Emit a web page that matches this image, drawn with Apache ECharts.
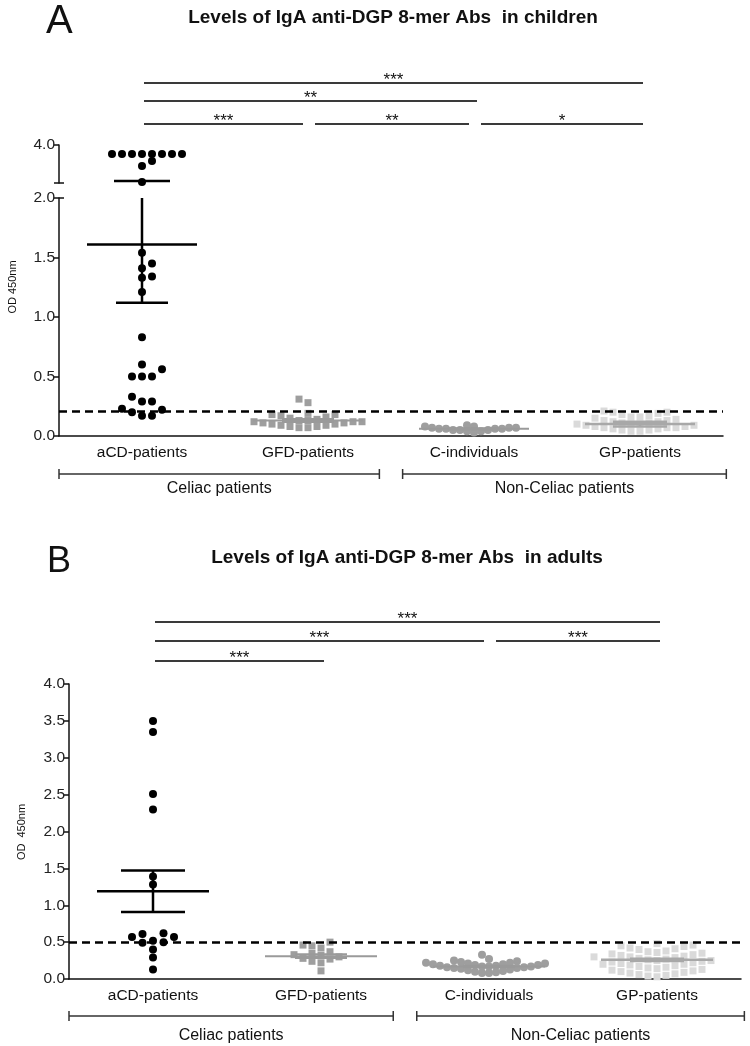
<!DOCTYPE html>
<html><head><meta charset="utf-8">
<script src="https://cdn.jsdelivr.net/npm/echarts@6/dist/echarts.min.js"></script>
<style>html,body{margin:0;padding:0;background:#fff}#c{width:750px;height:1046px}</style>
</head><body><div id="c"></div>
<script>
// ---------- data ----------
const categories = ['aCD-patients', 'GFD-patients', 'C-individuals', 'GP-patients'];
const groupLabels = ['Celiac patients', 'Non-Celiac patients'];
const panelLetters = ['A', 'B'];
const titleA = 'Levels of IgA anti-DGP 8-mer Abs  in children';
const titleB = 'Levels of IgA anti-DGP 8-mer Abs  in adults';
const yNameA = 'OD 450nm';
const yNameB = 'OD  450nm';

// Panel A (children)
const aCD_A = [3.53, 3.53, 3.53, 3.53, 3.53, 3.53, 3.53, 3.53, 3.16, 2.89, 2.05,
  1.54, 1.45, 1.41, 1.34, 1.33, 1.21, 0.83, 0.60, 0.56, 0.50, 0.50, 0.50,
  0.33, 0.29, 0.29, 0.23, 0.22, 0.20, 0.17, 0.17];
const GFD_A = [0.31, 0.28, 0.19, 0.18, 0.18, 0.17, 0.16, 0.15, 0.14, 0.13, 0.13, 0.12,
  0.12, 0.12, 0.11, 0.11, 0.10, 0.10, 0.09, 0.09, 0.08, 0.08, 0.07, 0.07];
const C_A = [0.09, 0.08, 0.08, 0.07, 0.07, 0.07, 0.06, 0.06, 0.06, 0.06, 0.05, 0.05,
  0.05, 0.04, 0.04, 0.03];
const GP_A = [0.21, 0.20, 0.20, 0.19, 0.18, 0.17, 0.16, 0.16, 0.15, 0.14, 0.13, 0.13,
  0.12, 0.12, 0.11, 0.11, 0.10, 0.10, 0.10, 0.09, 0.09, 0.08, 0.08, 0.07, 0.07, 0.07,
  0.06, 0.06, 0.05, 0.05, 0.04, 0.04];
const meanA = [1.61, 0.13, 0.06, 0.10];
const semA = [0.49, 0.012, 0.006, 0.02];
const cutoffA = 0.21;
const sigA = [
  { from: 0, to: 3, text: '***', row: 0 },
  { from: 0, to: 2, text: '**', row: 1 },
  { from: 0, to: 1, text: '***', row: 2 },
  { from: 1, to: 2, text: '**', row: 2 },
  { from: 2, to: 3, text: '*', row: 2 }
];

// Panel B (adults)
const aCD_B = [3.50, 3.35, 2.51, 2.30, 1.39, 1.28, 0.62, 0.61, 0.57, 0.57, 0.52, 0.50,
  0.49, 0.40, 0.29, 0.13];
const GFD_B = [0.50, 0.46, 0.45, 0.42, 0.37, 0.35, 0.33, 0.32, 0.30, 0.28, 0.27, 0.24,
  0.22, 0.11];
const C_B = [0.33, 0.27, 0.25, 0.24, 0.23, 0.22, 0.22, 0.21, 0.21, 0.20, 0.20, 0.19,
  0.19, 0.18, 0.18, 0.17, 0.17, 0.17, 0.16, 0.16, 0.15, 0.15, 0.14, 0.13, 0.12, 0.11,
  0.10, 0.09, 0.08, 0.08];
const GP_B = [0.48, 0.46, 0.45, 0.44, 0.42, 0.41, 0.40, 0.38, 0.37, 0.36, 0.35, 0.34,
  0.33, 0.32, 0.31, 0.30, 0.30, 0.29, 0.28, 0.27, 0.26, 0.25, 0.25, 0.24, 0.23, 0.22,
  0.21, 0.20, 0.20, 0.19, 0.18, 0.17, 0.16, 0.15, 0.14, 0.13, 0.12, 0.11, 0.10, 0.09,
  0.08, 0.07, 0.06, 0.05, 0.04, 0.03];
const meanB = [1.19, 0.31, 0.17, 0.26];
const semB = [0.28, 0.025, 0.01, 0.015];
const cutoffB = 0.5;
const sigB = [
  { from: 0, to: 3, text: '***', row: 0 },
  { from: 0, to: 2, text: '***', row: 1 },
  { from: 2, to: 3, text: '***', row: 1 },
  { from: 0, to: 1, text: '***', row: 2 }
];

// ---------- layout / style ----------
const FONT = '"Liberation Sans", Arial, sans-serif';
const GA_UP = { left: 59, top: 145, width: 664, height: 38, min: 2.0, max: 4.0 };
const GA_LO = { left: 59, top: 198, width: 664, height: 238, min: 0, max: 2.0 };
const GB = { left: 69, top: 684, width: 672, height: 295, min: 0, max: 4.0 };
const sigRowsA = [83, 101, 124];
const sigRowsB = [622, 641, 661];
const groupSpans = [[-0.5, 1.43], [1.57, 3.52]];
const INK = '#111';
const barColors = ['#000000', '#9a9a9a', '#9a9a9a', '#a8a8a8'];
const barWidths = [2.5, 2, 2, 2.5];

function swarm(vals, cat, g, step, vgap, dir) {
  const d = dir || -1;
  const order = vals.map((v, i) => i).sort((a, b) => vals[a] - vals[b]);
  const placed = [];
  const out = new Array(vals.length);
  const band = g.width / categories.length;
  order.forEach(i => {
    const v = vals[i];
    const py = g.top + (g.max - v) / (g.max - g.min) * g.height;
    let c = 0;
    for (let n = 0; n < 200; n++) {
      c = n === 0 ? 0 : (n % 2 ? d * (n + 1) / 2 : -d * n / 2);
      if (!placed.some(p => p.c === c && Math.abs(p.y - py) < vgap)) break;
    }
    placed.push({ c, y: py });
    out[i] = [cat + c * step / band, v];
  });
  return out;
}

function scat(data, xi, yi, symbol, size, color) {
  return { type: 'scatter', data, xAxisIndex: xi, yAxisIndex: yi, symbol, symbolSize: size,
    itemStyle: { color, opacity: 1 }, silent: true, animation: false, z: 3 };
}

function errSeries(means, sems, xi, yi, axisMax, halfMean, halfCaps, capOnly) {
  const data = means.map((m, i) => [i, m, sems[i]]).filter(d => capOnly ? d[1] + d[2] > axisMax : true);
  return {
    type: 'custom', xAxisIndex: xi, yAxisIndex: yi, data, encode: { x: 0, y: 1 },
    z: 5, silent: true, animation: false, clip: false,
    renderItem(params, api) {
      const i = api.value(0), m = api.value(1), s = api.value(2);
      const col = barColors[i], lw = barWidths[i], hc = halfCaps[i];
      const ln = (x1, y1, x2, y2) => ({ type: 'line', shape: { x1, y1, x2, y2 }, style: { stroke: col, lineWidth: lw } });
      if (capOnly) {
        const p = api.coord([i, m + s]);
        return { type: 'group', children: [ln(p[0] - hc, p[1], p[0] + hc, p[1])] };
      }
      const pm = api.coord([i, m]), pl = api.coord([i, m - s]), pu = api.coord([i, Math.min(m + s, axisMax)]);
      const ch = [
        ln(pm[0] - halfMean, pm[1], pm[0] + halfMean, pm[1]),
        ln(pm[0], pl[1], pm[0], pu[1]),
        ln(pm[0] - hc, pl[1], pm[0] + hc, pl[1])
      ];
      if (m + s <= axisMax) ch.push(ln(pm[0] - hc, pu[1], pm[0] + hc, pu[1]));
      return { type: 'group', children: ch };
    }
  };
}

function yAx(gi, min, max, interval, showLabel) {
  return {
    type: 'value', gridIndex: gi, min, max, interval, position: 'left',
    axisLine: { show: true, onZero: false, lineStyle: { color: INK, width: 1.5 } },
    axisTick: { show: true, length: 5, lineStyle: { color: INK, width: 1.5 } },
    splitLine: { show: false },
    axisLabel: { fontSize: 15.5, color: '#222', fontFamily: FONT, margin: 4,
      formatter: v => showLabel(v) ? v.toFixed(1) : '' }
  };
}
function xCat(gi, show) {
  return {
    type: 'category', gridIndex: gi, data: categories, position: 'bottom', show,
    axisLine: { onZero: false, lineStyle: { color: INK, width: 1.5 } },
    axisTick: { alignWithLabel: true, length: 5, lineStyle: { color: INK, width: 1.5 } },
    axisLabel: { fontSize: 15.5, color: INK, fontFamily: FONT, margin: 9 }
  };
}
function xVal(gi) {
  return { type: 'value', gridIndex: gi, min: -0.5, max: 3.5, show: false, position: 'top',
    axisLine: { onZero: false } };
}
const cutLine = v => ({ silent: true, symbol: 'none', label: { show: false }, animation: false,
  lineStyle: { type: [8, 5], color: '#000', width: 2.5 }, data: [{ yAxis: v }] });

const aUp = aCD_A.filter(v => v > GA_LO.max);
const aLo = aCD_A.filter(v => v <= GA_LO.max);

const chart = echarts.init(document.getElementById('c'), null, { renderer: 'canvas' });
const grid = g => ({ left: g.left, top: g.top, width: g.width, height: g.height, containLabel: false });

const gpA = scat(swarm(GP_A, 3, GA_LO, 9, 7), 3, 1, 'rect', 7, '#dadada');
gpA.markLine = cutLine(cutoffA);
const gpB = scat(swarm(GP_B, 3, GB, 9, 8), 5, 2, 'rect', 7, '#dadada');
gpB.markLine = cutLine(cutoffB);

chart.setOption({
  animation: false,
  backgroundColor: '#fff',
  grid: [grid(GA_UP), grid(GA_LO), grid(GB)],
  xAxis: [xCat(0, false), xVal(0), xCat(1, true), xVal(1), xCat(2, true), xVal(2)],
  yAxis: [
    yAx(0, GA_UP.min, GA_UP.max, 2, v => v > 3),
    yAx(1, GA_LO.min, GA_LO.max, 0.5, () => true),
    yAx(2, GB.min, GB.max, 0.5, () => true)
  ],
  series: [
    scat(swarm(aUp, 0, GA_UP, 10, 6.5, 1), 1, 0, 'circle', 8, '#000'),
    scat(swarm(aLo, 0, GA_LO, 10, 8, 1), 3, 1, 'circle', 8, '#000'),
    scat(swarm(GFD_A, 1, GA_LO, 9, 7), 3, 1, 'rect', 7, '#9e9e9e'),
    scat(swarm(C_A, 2, GA_LO, 7, 5), 3, 1, 'circle', 8, '#9e9e9e'),
    gpA,
    errSeries(meanA, semA, 3, 1, GA_LO.max, 55, [26, 26, 26, 27], false),
    errSeries(meanA, semA, 1, 0, GA_UP.min, 55, [28, 26, 26, 27], true),
    scat(swarm(aCD_B, 0, GB, 10.5, 8), 5, 2, 'circle', 8, '#000'),
    scat(swarm(GFD_B, 1, GB, 9, 7), 5, 2, 'rect', 7, '#9e9e9e'),
    scat(swarm(C_B, 2, GB, 7, 6), 5, 2, 'circle', 8, '#9e9e9e'),
    gpB,
    errSeries(meanB, semB, 5, 2, GB.max, 56, [32, 26, 26, 27], false)
  ]
});

// ---------- annotations ----------
const px = (ai, v) => chart.convertToPixel({ xAxisIndex: ai }, v);
const py = (ai, v) => chart.convertToPixel({ yAxisIndex: ai }, v);
const g = [];
const line = (x1, y1, x2, y2, w, c) => ({ type: 'line', silent: true,
  shape: { x1, y1, x2, y2 }, style: { stroke: c || '#333', lineWidth: w || 1.5 } });
const text = (x, y, t, size, opts) => ({ type: 'text', silent: true, x, y,
  style: Object.assign({ text: t, fontSize: size, fontFamily: FONT, fill: INK,
    textAlign: 'center', textVerticalAlign: 'middle' }, opts || {}) });

function sigBrackets(list, rows, ai) {
  list.forEach(s => {
    const joinL = list.some(o => o.row === s.row && o.to === s.from);
    const joinR = list.some(o => o.row === s.row && o.from === s.to);
    const x1 = px(ai, s.from) + (joinL ? 7 : 2);
    const x2 = px(ai, s.to) + (joinR ? -5 : 3);
    const y = rows[s.row];
    g.push(line(x1, y, x2, y, 2, '#3a3a3a'));
    g.push(text((x1 + x2) / 2, y - 3, s.text, 17));
  });
}
sigBrackets(sigA, sigRowsA, 3);
sigBrackets(sigB, sigRowsB, 5);

function groups(ai, y, ly) {
  groupSpans.forEach((sp, k) => {
    const x1 = px(ai, sp[0]), x2 = px(ai, sp[1]);
    g.push(line(x1, y, x2, y, 1.5, '#333'));
    g.push(line(x1, y - 5, x1, y + 5, 1.5, '#333'));
    g.push(line(x2, y - 5, x2, y + 5, 1.5, '#333'));
    g.push(text((x1 + x2) / 2, ly, groupLabels[k], 16));
  });
}
groups(3, 474, 489);
groups(5, 1016, 1036);

// axis break markers on panel A
const axA = GA_LO.left;
g.push(line(axA, py(0, GA_UP.min), axA + 5, py(0, GA_UP.min), 1.5, INK));
g.push(line(axA, py(1, GA_LO.max), axA + 5, py(1, GA_LO.max), 1.5, INK));

// titles / letters / axis names
g.push(text(46, 22, panelLetters[0], 40, { textAlign: 'left' }));
g.push(text(47, 562, panelLetters[1], 36, { textAlign: 'left' }));
g.push(text(393, 18, titleA, 19, { fontWeight: 'bold' }));
g.push(text(407, 558, titleB, 19, { fontWeight: 'bold' }));
g.push(Object.assign(text(13, 287, yNameA, 11), { rotation: Math.PI / 2 }));
g.push(Object.assign(text(22, 832, yNameB, 11), { rotation: Math.PI / 2 }));

chart.setOption({ graphic: { elements: g } });
</script>
</body></html>
